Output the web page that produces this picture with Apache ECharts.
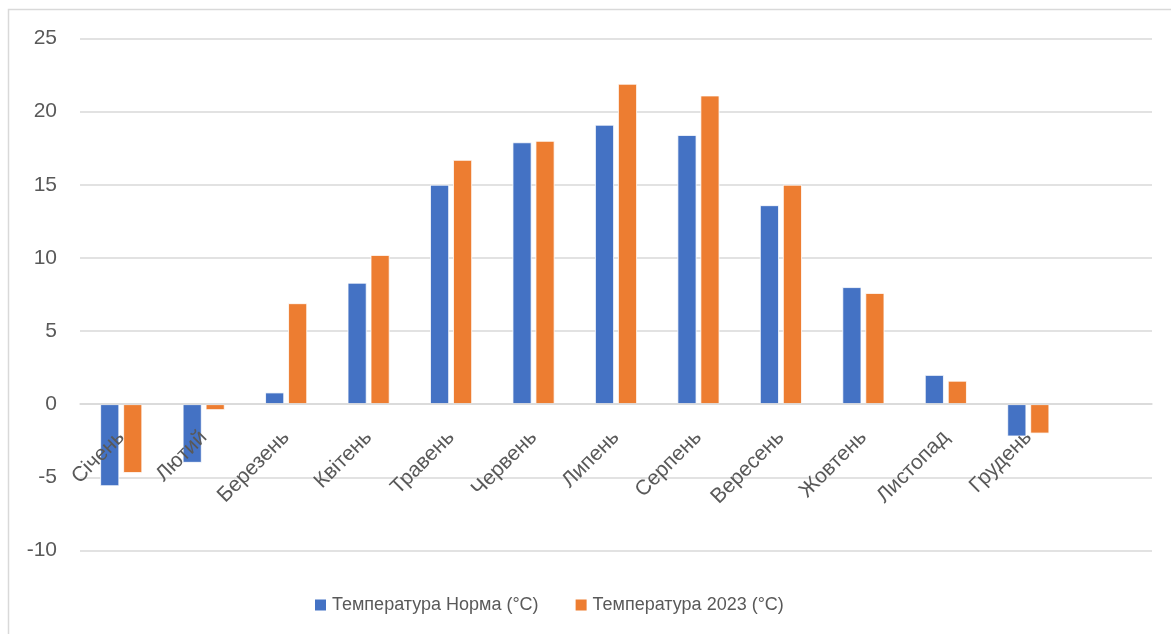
<!DOCTYPE html>
<html>
<head>
<meta charset="utf-8">
<script src="https://cdn.jsdelivr.net/npm/echarts@6/dist/echarts.min.js"></script>
<style>
html,body{margin:0;padding:0;background:#fff;}
#chart{width:1171px;height:634px;}
</style>
</head>
<body>
<div id="chart"></div>
<script>
const categories = ['Січень','Лютий','Березень','Квітень','Травень','Червень','Липень','Серпень','Вересень','Жовтень','Листопад','Грудень',''];
const normaValues = [-5.6, -4.0, 0.8, 8.3, 15.0, 17.9, 19.1, 18.4, 13.6, 8.0, 2.0, -2.2, null];
const values2023 = [-4.7, -0.4, 6.9, 10.2, 16.7, 18.0, 21.9, 21.1, 15.0, 7.6, 1.6, -2.0, null];
const seriesNames = ['Температура Норма (°C)', 'Температура 2023 (°C)'];
const yMin = -10, yMax = 25, yStep = 5;

const FONT = '"Liberation Sans", Arial, sans-serif';
const GRID_TOP = 38.5, GRID_BOTTOM_Y = 550.5;
const gridH = GRID_BOTTOM_Y - GRID_TOP;
const zeroOffset = -gridH * (0 - yMin) / (yMax - yMin);

const chart = echarts.init(document.getElementById('chart'), null, {renderer: 'canvas'});
chart.setOption({
  animation: false,
  backgroundColor: '#fff',
  graphic: [{
    type: 'rect',
    shape: {x: 8.5, y: 9.5, width: 1200, height: 700},
    style: {fill: 'none', stroke: '#d9d9d9', lineWidth: 1.5},
    silent: true
  }],
  grid: {left: 80, right: 19, top: GRID_TOP, bottom: 634 - GRID_BOTTOM_Y, containLabel: false, outerBoundsMode: 'none'},
  legend: {
    left: 308, top: 591,
    itemWidth: 13, itemHeight: 13, itemGap: 35,
    icon: 'rect',
    textStyle: {fontFamily: FONT, fontSize: 18, color: '#595959'},
    data: seriesNames
  },
  xAxis: {
    type: 'category',
    data: categories,
    offset: zeroOffset,
    z: 10,
    axisLine: {show: true, onZero: false, lineStyle: {color: '#d9d9d9', width: 1.5}},
    axisTick: {show: false},
    axisLabel: {rotate: 45, margin: 30, interval: 0, fontFamily: FONT, fontSize: 21, color: '#595959'}
  },
  yAxis: {
    type: 'value',
    min: yMin, max: yMax, interval: yStep,
    axisLine: {show: false},
    axisTick: {show: false},
    axisLabel: {margin: 23, fontFamily: FONT, fontSize: 21, color: '#595959'},
    splitLine: {lineStyle: {color: '#d9d9d9', width: 1.5}}
  },
  series: [
    {name: seriesNames[0], type: 'bar', data: normaValues, barWidth: 19, barGap: '21%', z: 2,
     itemStyle: {color: '#4472c4', borderColor: '#fff', borderWidth: 0.8}},
    {name: seriesNames[1], type: 'bar', data: values2023, barWidth: 19, z: 2,
     itemStyle: {color: '#ed7d31', borderColor: '#fff', borderWidth: 0.8}}
  ]
});
</script>
</body>
</html>
